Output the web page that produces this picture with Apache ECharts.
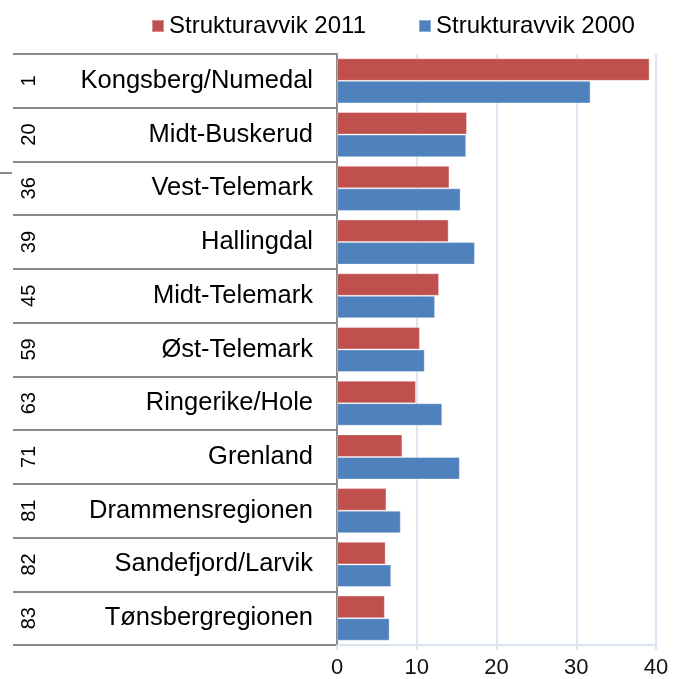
<!DOCTYPE html>
<html>
<head>
<meta charset="utf-8">
<script src="https://cdn.jsdelivr.net/npm/echarts@6/dist/echarts.min.js"></script>
<style>
  html, body { margin: 0; padding: 0; background: #fff; }
  #chart { width: 679px; height: 679px; }
</style>
</head>
<body>
<div id="chart"></div>
<script>
// rank + region, top to bottom
var ranks = ["1", "20", "36", "39", "45", "59", "63", "71", "81", "82", "83"];
var regions = ["Kongsberg/Numedal", "Midt-Buskerud", "Vest-Telemark", "Hallingdal",
  "Midt-Telemark", "Øst-Telemark", "Ringerike/Hole", "Grenland",
  "Drammensregionen", "Sandefjord/Larvik", "Tønsbergregionen"];
var avvik2011 = [39.2, 16.3, 14.1, 14.0, 12.8, 10.4, 9.9, 8.2, 6.2, 6.1, 6.0];
var avvik2000 = [31.8, 16.2, 15.5, 17.3, 12.3, 11.0, 13.2, 15.4, 8.0, 6.8, 6.6];

var font = "Liberation Sans";

var myChart = echarts.init(document.getElementById("chart"));
var option = {
  animation: false,
  textStyle: { fontFamily: font },
  legend: {
    left: 146,
    top: 9,
    icon: "rect",
    itemWidth: 12,
    itemHeight: 12,
    itemGap: 52,
    textStyle: { fontFamily: font, fontSize: 24, color: "#000" },
    data: ["Strukturavvik 2011", "Strukturavvik 2000"]
  },
  grid: { left: 337, right: 23, top: 54, bottom: 32 },
  xAxis: {
    type: "value",
    min: 0,
    max: 40,
    interval: 10,
    axisLine: { show: true, lineStyle: { color: "#d9e3f1", width: 2 } },
    axisTick: { show: true, length: 5, lineStyle: { color: "#d9e3f1", width: 2 } },
    splitLine: { show: true, lineStyle: { color: "#dce6f2", width: 2 } },
    axisLabel: { fontFamily: font, fontSize: 22, color: "#111", margin: 12 }
  },
  yAxis: [
    {
      type: "category",
      inverse: true,
      data: regions,
      axisLine: { show: true, lineStyle: { color: "#8a8a8a", width: 2 } },
      axisTick: { show: true, length: 324, lineStyle: { color: "#8a8a8a", width: 2 } },
      axisLabel: { fontFamily: font, fontSize: 25.5, color: "#000", margin: 24 }
    },
    {
      type: "category",
      inverse: true,
      position: "left",
      data: ranks,
      axisLine: { show: false },
      axisTick: { show: false },
      axisLabel: { fontFamily: font, fontSize: 20, color: "#000", rotate: 90, margin: 298 }
    }
  ],
  series: [
    {
      name: "Strukturavvik 2011",
      type: "bar",
      color: "#c0504d",
      barGap: "0%",
      barCategoryGap: "16%",
      itemStyle: { borderColor: "rgba(255,255,255,0.35)", borderWidth: 1 },
      data: avvik2011
    },
    {
      name: "Strukturavvik 2000",
      type: "bar",
      color: "#4f81bd",
      itemStyle: { borderColor: "rgba(255,255,255,0.35)", borderWidth: 1 },
      data: avvik2000
    }
  ],
  graphic: [
    {
      type: "line",
      shape: { x1: 0, y1: 173, x2: 12, y2: 173 },
      style: { stroke: "#8a8a8a", lineWidth: 2 }
    }
  ]
};
myChart.setOption(option);
</script>
</body>
</html>
